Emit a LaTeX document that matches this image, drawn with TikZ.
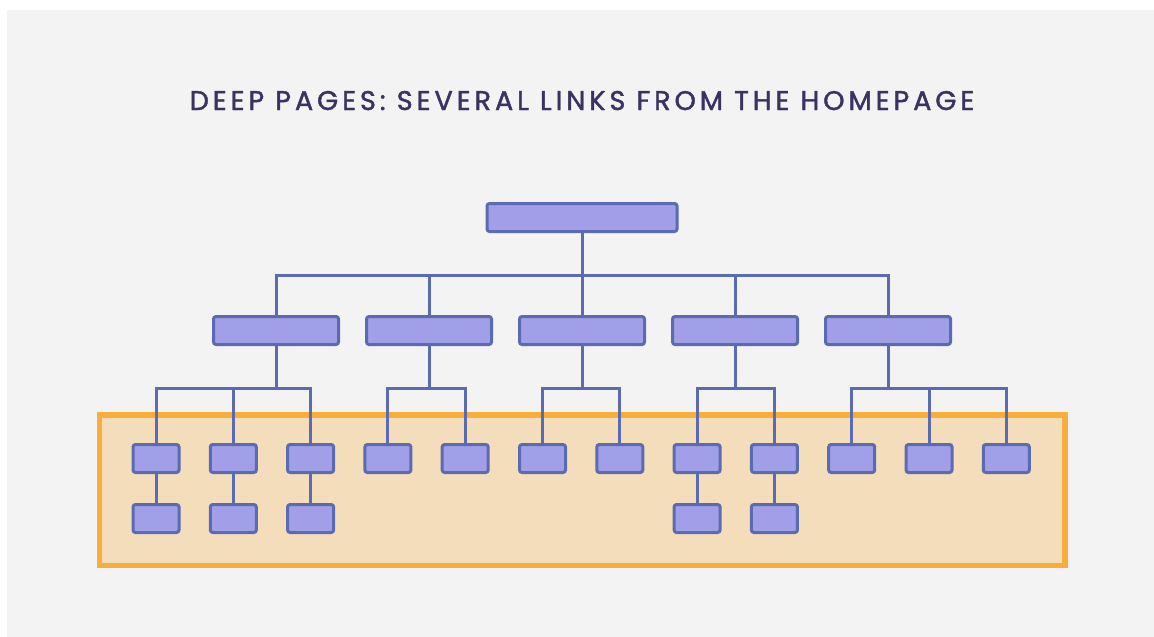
\documentclass[tikz,border=0pt]{standalone}
\usepackage{fontspec}
\setmainfont{Poppins}
\newfontfamily\titlefont{Poppins}[LetterSpace=14.8, FakeBold=1.6]
\usepackage{tikz}
\usetikzlibrary{positioning}
\definecolor{bgGrey}{HTML}{F3F3F3}
\definecolor{pageFill}{HTML}{A09FE7}
\definecolor{pageLine}{HTML}{5B6BB1}
\definecolor{zoneFill}{HTML}{F4DDBA}
\definecolor{zoneLine}{HTML}{F9AE3B}
\definecolor{titleInk}{HTML}{3A3262}
\tikzstyle{pagebox} = [draw=pageLine, fill=pageFill, line width=3pt, rounded corners=2.5pt, minimum height=28pt, inner sep=0pt]
\tikzstyle{homebox} = [pagebox, minimum width=190pt]
\tikzstyle{secbox} = [pagebox, minimum width=125pt]
\tikzstyle{deepbox} = [pagebox, minimum width=46pt]
\tikzstyle{link} = [draw=pageLine, line width=3pt]
\tikzstyle{zone} = [draw=zoneLine, fill=zoneFill, line width=5.5pt]
\tikzstyle{heading} = [text=titleInk, inner sep=0pt, anchor=base, font=\titlefont\fontsize{27}{32}\selectfont]

\begin{document}
\begin{tikzpicture}[x=1pt,y=-1pt]
    \useasboundingbox (0,0) rectangle (1154,637);
    \fill[white] (0,0) rectangle (1154,637);
    \fill[bgGrey] (7,10) rectangle (1154,637);

    \node [heading] (title) at (582,110) {DEEP PAGES: SEVERAL LINKS FROM THE HOMEPAGE};

    % deep pages area
    \draw [zone] (99.5,415) rectangle (1065,565.5);

    \node [homebox] (home) at (582,217.5) {};

    \node [secbox] (s1) at (276,330.5) {};
    \node [secbox, right of=s1, node distance=153pt] (s2) {};
    \node [secbox, right of=s2, node distance=153pt] (s3) {};
    \node [secbox, right of=s3, node distance=153pt] (s4) {};
    \node [secbox, right of=s4, node distance=153pt] (s5) {};

    \node [deepbox] (d1) at (156,458.5) {};
    \node [deepbox, right of=d1, node distance=77.3pt] (d2) {};
    \node [deepbox, right of=d2, node distance=77.3pt] (d3) {};
    \node [deepbox, right of=d3, node distance=77.3pt] (d4) {};
    \node [deepbox, right of=d4, node distance=77.3pt] (d5) {};
    \node [deepbox, right of=d5, node distance=77.3pt] (d6) {};
    \node [deepbox, right of=d6, node distance=77.3pt] (d7) {};
    \node [deepbox, right of=d7, node distance=77.3pt] (d8) {};
    \node [deepbox, right of=d8, node distance=77.3pt] (d9) {};
    \node [deepbox, right of=d9, node distance=77.3pt] (d10) {};
    \node [deepbox, right of=d10, node distance=77.3pt] (d11) {};
    \node [deepbox, right of=d11, node distance=77.3pt] (d12) {};

    \node [deepbox, below of=d1, node distance=60pt] (e1) {};
    \node [deepbox, below of=d2, node distance=60pt] (e2) {};
    \node [deepbox, below of=d3, node distance=60pt] (e3) {};
    \node [deepbox, below of=d8, node distance=60pt] (e8) {};
    \node [deepbox, below of=d9, node distance=60pt] (e9) {};

    \draw [link] (home.south) -- ++(0,42) -| (s1.north);
    \draw [link] (home.south) -- ++(0,42) -| (s2.north);
    \draw [link] (home.south) -- (s3.north);
    \draw [link] (home.south) -- ++(0,42) -| (s4.north);
    \draw [link] (home.south) -- ++(0,42) -| (s5.north);

    \draw [link] (s1.south) -- ++(0,42) -| (d1.north);
    \draw [link] (s1.south) -- ++(0,42) -| (d2.north);
    \draw [link] (s1.south) -- ++(0,42) -| (d3.north);
    \draw [link] (s2.south) -- ++(0,42) -| (d4.north);
    \draw [link] (s2.south) -- ++(0,42) -| (d5.north);
    \draw [link] (s3.south) -- ++(0,42) -| (d6.north);
    \draw [link] (s3.south) -- ++(0,42) -| (d7.north);
    \draw [link] (s4.south) -- ++(0,42) -| (d8.north);
    \draw [link] (s4.south) -- ++(0,42) -| (d9.north);
    \draw [link] (s5.south) -- ++(0,42) -| (d10.north);
    \draw [link] (s5.south) -- ++(0,42) -| (d11.north);
    \draw [link] (s5.south) -- ++(0,42) -| (d12.north);

    \draw [link] (d1) -- (e1);
    \draw [link] (d2) -- (e2);
    \draw [link] (d3) -- (e3);
    \draw [link] (d8) -- (e8);
    \draw [link] (d9) -- (e9);
\end{tikzpicture}
\end{document}
